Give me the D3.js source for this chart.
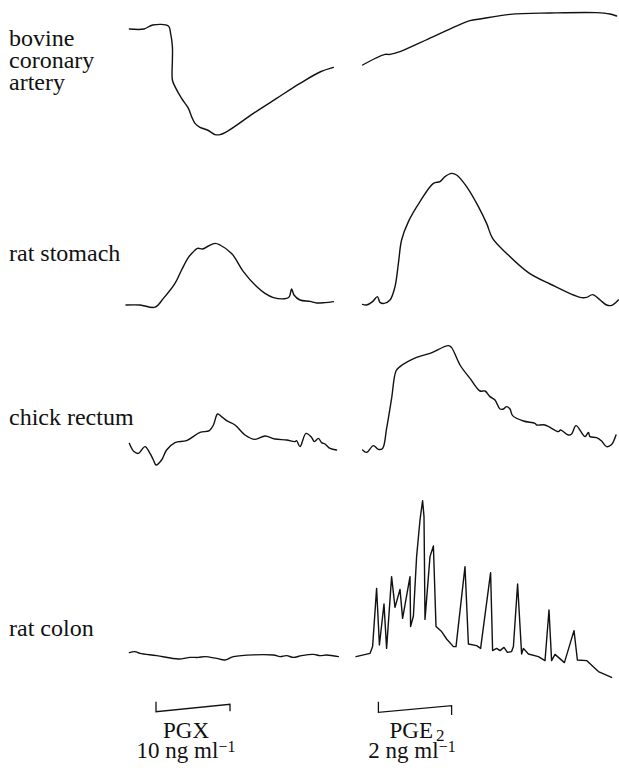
<!DOCTYPE html>
<html>
<head>
<meta charset="utf-8">
<script src="https://cdn.jsdelivr.net/npm/d3@7"></script>
<style>
  html, body { margin: 0; padding: 0; background: #fff; }
</style>
</head>
<body>
<svg id="chart" width="619" height="774"></svg>
<script>
// Tissue names, one per row of traces
const tissues = [["bovine", "coronary", "artery"], ["rat stomach"], ["chick rectum"], ["rat colon"]];

// Agents applied: left column and right column
const agents = [
  { name: "PGX", sub: "", dose: "10 ng ml", start: 15, end: 52 },
  { name: "PGE", sub: "2", dose: "2 ng ml", start: 11.7, end: 48.3 }
];

// Recorded traces: [time, response] pairs (time in arbitrary chart units)
const bovinePGX = [[1.7,55.5],[9,55.5],[13.3,57.5],[21.2,57],[22.3,53.3],[23.2,46.7],[23.2,40],[23.2,30],[24.5,26.7],[27.8,20.8],[31.2,15.8],[32.8,11.7],[34.5,8.3],[37,6.3],[40.7,5],[44.5,2.7],[47,2.7],[51.2,4.7],[63.7,13.3],[75.3,20.8],[87,28.3],[97,34],[103.7,36.3]];
const bovinePGE2 = [[3.8,37.5],[15,42.8],[17.5,42.8],[22.5,44.2],[39.2,51.7],[57.5,59.7],[62.5,60.5],[77.5,62.8],[97.5,63.5],[120.8,63.7],[127.5,63],[130.8,62]];

const stomachPGX = [[0,2.5],[7,2.5],[14.5,1.4],[18.7,5.8],[24.5,13.3],[27.8,20],[31.2,26.3],[33.3,28.7],[35.7,30.8],[38.3,30.5],[41.2,32],[44.5,33.3],[47,32.5],[52.8,28.3],[58.7,19.2],[65.3,11.7],[69.5,8.3],[73.7,6.2],[80.3,5.8],[81.7,6.7],[82.8,10.5],[84,7.5],[87,5],[92,4.3],[95.3,3.5],[99.5,3.7],[103.7,4.2]];
const stomachPGE2 = [[3.8,2.8],[5.8,2.5],[8.8,4.2],[11.2,6.7],[12.5,3.8],[14.5,3.3],[17.5,5],[20,11.7],[21.7,23.3],[23.3,35],[26.7,44.2],[32.5,54.2],[39.2,63.3],[42.5,64.2],[45,66.7],[48.3,68.3],[50.8,67.5],[55.8,61.7],[61.7,51.7],[65.8,43.3],[68.8,35.8],[75.8,28.3],[86.7,18.7],[97.5,13],[112.5,6.3],[115.8,6.3],[118.8,7.7],[122.2,5.3],[125.8,2.5],[128.3,2.3],[131.7,5]];

const rectumPGX = [[1.7,13.3],[4,9.2],[6.2,8.3],[9.5,11.7],[12,8.3],[13.7,5],[15,2.5],[17.8,5],[20.3,10],[24.5,13.7],[30.3,14.7],[37,18.8],[41.7,19.7],[43.7,22.5],[45.8,28],[47.8,26.7],[50.3,24.7],[54.5,22.5],[59.5,17.5],[64.5,15.3],[69.5,17],[74.5,15.5],[80.3,15],[84.5,14.2],[85.3,14.7],[87,11.7],[90,18.3],[92.8,16.3],[94.2,14.2],[96.2,15.8],[97.8,13.7],[99.5,13],[102,10.8],[105.3,10]];
const rectumPGE2 = [[3.8,10],[5.8,8.8],[9.2,12.2],[11.7,10.3],[13.8,10.8],[15.8,20.8],[18.3,35.8],[20.5,49.5],[22.5,51.7],[30.8,56.3],[37.5,58.3],[46.7,62.2],[48.3,61.2],[52.5,52.5],[57.5,45.8],[62.5,39.5],[65,39.5],[67.5,36.7],[70,35],[72.5,30.5],[74.2,30.5],[75.8,31.7],[77.5,30.5],[78.8,27.2],[84.2,24.5],[90,23.3],[90.8,22.5],[95,22.5],[101.7,19.2],[102.8,20],[106.7,17.5],[108.3,18],[110.5,22.2],[115,16.7],[116.7,18.8],[117.5,16.7],[120.8,16.2],[123.3,14.5],[125.8,11.7],[128.3,12.8],[130.5,17.5]];

const colonPGX = [[1.7,13.7],[4.5,14.2],[7,13.3],[15.3,12.2],[26.2,10.5],[32,11.3],[36.2,11.3],[39.5,11.7],[45.3,10.8],[49.5,10],[53.7,11.7],[73.7,12.5],[77,11.7],[80.3,12.2],[83.7,11.3],[87.8,12.2],[93.7,12.8],[97,12.2],[100.3,12.5],[106.2,11.7]];
const colonPGE2 = [[0.5,11.7],[7.5,13.3],[8.8,16.7],[10.8,45.8],[12.2,17.5],[14.5,38],[15.8,15.8],[18.3,51.7],[20,36.3],[22.5,45.3],[23.8,30.8],[27.5,51.7],[27.8,26.7],[29.2,32],[30.8,61.7],[32.5,80],[33.8,89.7],[34.5,81.7],[35,30.3],[37.5,61.7],[39.2,67],[40.5,26.7],[43.3,24.2],[45.8,20.5],[49.2,16.7],[50.5,16.7],[55,56.7],[56.7,18],[60.8,17.2],[62.8,15.8],[67.8,53.7],[68.8,14.7],[70.8,15.8],[72.5,14.7],[74.5,16.3],[76.2,13.8],[78.3,14.2],[79.2,16.7],[81.3,48],[83.3,13],[84.2,15.8],[86.7,13],[91.7,11.7],[95,9.7],[97,35],[98.3,9.7],[100,12.8],[104.7,8.7],[109.5,24.7],[111.2,10],[115.8,9.7],[121.7,4.2],[128.3,1.3]];

const traces = [
  [bovinePGX, bovinePGE2],
  [stomachPGX, stomachPGE2],
  [rectumPGX, rectumPGE2],
  [colonPGX, colonPGE2]
];

// ---- layout ----
const svg = d3.select("#chart");
const serif = "'Liberation Serif', 'Times New Roman', Times, 'DejaVu Serif', serif";
const labelSize = 24;
const agentSize = 23;
const rowBase = [140, 310, 470, 680];              // pixel baseline of each row
const labelBaseline = [[46, 68, 90], [261], [425], [636]];

// one x scale per column, one y scale per row
const xScales = [
  d3.scaleLinear().domain([0, 106]).range([126, 338]),
  d3.scaleLinear().domain([0, 132]).range([355, 619])
];
const yScales = rowBase.map(b => d3.scaleLinear().domain([0, 70]).range([b, b - 140]));

// row labels
tissues.forEach((lines, r) => {
  lines.forEach((txt, i) => {
    svg.append("text")
      .attr("x", 9)
      .attr("y", labelBaseline[r][i])
      .attr("font-family", serif)
      .attr("font-size", labelSize)
      .attr("fill", "#111")
      .text(txt);
  });
});

// traces
traces.forEach((pair, r) => {
  pair.forEach((data, c) => {
    const spiky = (r === 3 && c === 1);
    const line = d3.line()
      .x(d => xScales[c](d[0]))
      .y(d => yScales[r](d[1]))
      .curve(spiky ? d3.curveLinear : d3.curveCatmullRom.alpha(0.5));
    svg.append("path")
      .datum(data)
      .attr("d", line)
      .attr("fill", "none")
      .attr("stroke", "#111")
      .attr("stroke-width", 1.4)
      .attr("stroke-linejoin", "round")
      .attr("stroke-linecap", "round");
  });
});

// application brackets and agent labels
const bracketGeom = [
  { top: 701.7, low: 711.7, rightTop: 704.3, rightLow: 711.3 },
  { top: 701.7, low: 712.3, rightTop: 705.7, rightLow: 715 }
];
agents.forEach((a, c) => {
  const x0 = xScales[c](a.start), x1 = xScales[c](a.end);
  const g = bracketGeom[c];
  const path = d3.path();
  path.moveTo(x0, g.top);
  path.lineTo(x0, g.low);
  path.lineTo(x1, g.rightTop);
  path.lineTo(x1, g.rightLow);
  svg.append("path")
    .attr("d", path.toString())
    .attr("fill", "none")
    .attr("stroke", "#111")
    .attr("stroke-width", 1.3);

  const cx = (x0 + x1) / 2;
  const t1 = svg.append("text")
    .attr("x", cx + (a.sub ? 2 : -7))
    .attr("y", 738)
    .attr("font-family", serif)
    .attr("font-size", agentSize)
    .attr("fill", "#111")
    .attr("text-anchor", "middle");
  t1.append("tspan").text(a.name);
  if (a.sub) {
    t1.append("tspan").attr("dx", 3).attr("dy", 3).attr("font-size", 17).text(a.sub);
  }

  const t2 = svg.append("text")
    .attr("x", cx + (a.sub ? -3 : -7))
    .attr("y", 758)
    .attr("font-family", serif)
    .attr("font-size", agentSize)
    .attr("fill", "#111")
    .attr("text-anchor", "middle");
  t2.append("tspan").text(a.dose);
  t2.append("tspan").attr("dy", -6).attr("font-size", 16).text("\u22121");
});
</script>
</body>
</html>
